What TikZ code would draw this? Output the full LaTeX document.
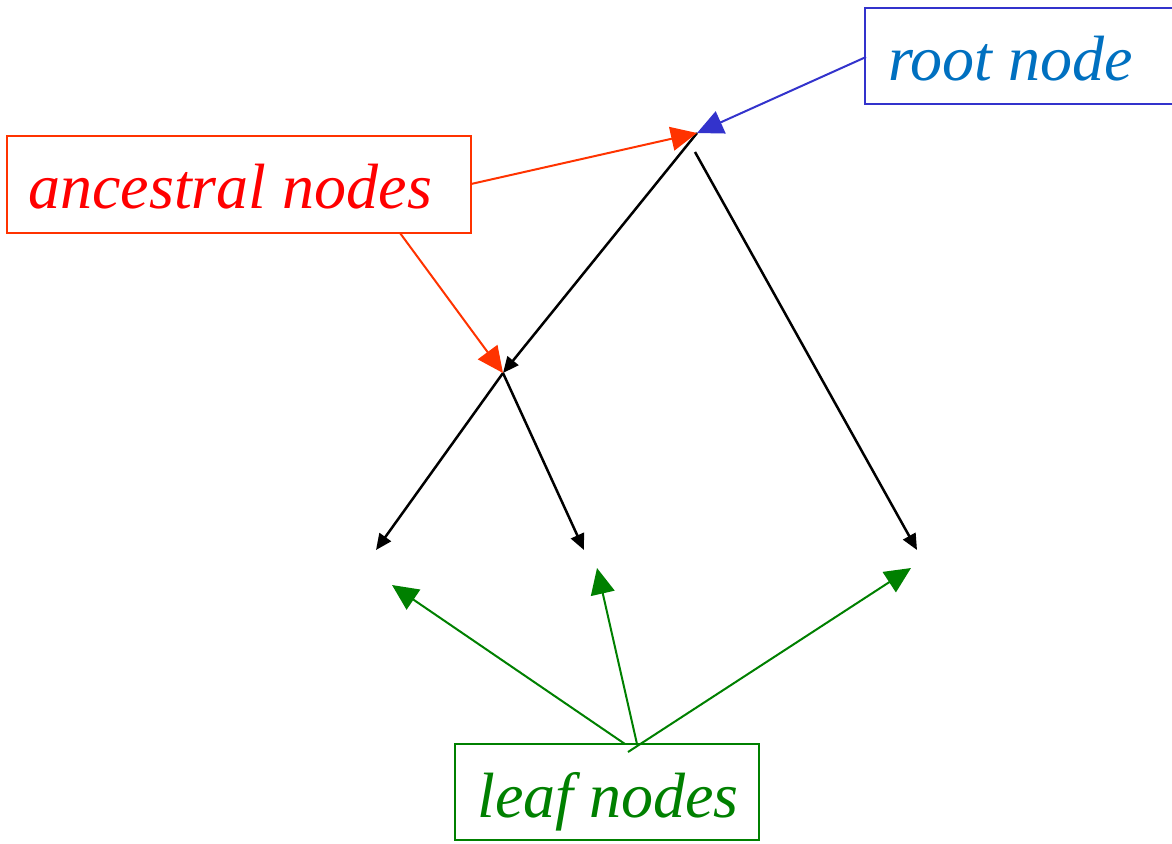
\documentclass[tikz,border=0pt]{standalone}
\usepackage{fontspec}
\setmainfont{Liberation Serif}
\usetikzlibrary{arrows.meta}
\definecolor{ancred}{RGB}{255,51,0}
\definecolor{anctext}{RGB}{255,0,0}
\definecolor{rootblue}{RGB}{51,51,204}
\definecolor{roottext}{RGB}{0,112,192}
\definecolor{leafgreen}{RGB}{0,128,0}
\tikzset{
  edge/.style={draw=black, line width=1.25pt, -{Triangle[length=8pt,width=7pt]}},
  callout/.style={line width=1pt, -{Triangle[length=13pt,width=12pt]}},
  box/.style={draw, line width=1pt, rectangle, inner sep=0pt},
  lbl/.style={anchor=base west, inner sep=0pt, font=\itshape\fontsize{32}{38}\selectfont},
}
\begin{document}
\begin{tikzpicture}[x=0.5pt,y=-0.5pt]
\useasboundingbox (0,0) rectangle (1172,843);
\clip (0,0) rectangle (1172,843);
% tree points
\coordinate (root) at (697,133);
\coordinate (rootb) at (695,152);
\coordinate (anc) at (503,373);
\coordinate (leafa) at (376,550);
\coordinate (leafb) at (584,550);
\coordinate (leafc) at (917,550);
% label boxes
\node[box, draw=rootblue, minimum width=157pt, minimum height=48pt] (rootbox) at (1022,56) {};
\node[lbl, text=roottext] (roottxt) at (888,80) {root node};
\node[box, draw=ancred, minimum width=232pt, minimum height=48.5pt] (ancbox) at (239,184.5) {};
\node[lbl, text=anctext] (anctxt) at (28,208) {ancestral nodes};
\node[box, draw=leafgreen, minimum width=152pt, minimum height=48pt] (leafbox) at (607,792) {};
\node[lbl, text=leafgreen] (leaftxt) at (477,817) {leaf nodes};
% tree edges
\draw[edge] (root) -- (anc);
\draw[edge] (rootb) -- (leafc);
\draw[edge] (anc) -- (leafa);
\draw[edge] (anc) -- (leafb);
% callouts
\coordinate (rootfrom) at (866,57);
\draw[callout, draw=rootblue, fill=rootblue] (rootfrom) -- (root);
\coordinate (ancfromA) at (471,184);
\coordinate (ancfromB) at (400,233);
\draw[callout, draw=ancred, fill=ancred] (ancfromA) -- (root);
\draw[callout, draw=ancred, fill=ancred] (ancfromB) -- (anc);
\coordinate (lfA) at (625,744);
\coordinate (lfB) at (637,744);
\coordinate (lfC) at (628,752);
\coordinate (tA) at (392,585);
\coordinate (tB) at (597,568);
\coordinate (tC) at (911,568);
\draw[callout, draw=leafgreen, fill=leafgreen] (lfA) -- (tA);
\draw[callout, draw=leafgreen, fill=leafgreen] (lfB) -- (tB);
\draw[callout, draw=leafgreen, fill=leafgreen] (lfC) -- (tC);
\end{tikzpicture}
\end{document}
